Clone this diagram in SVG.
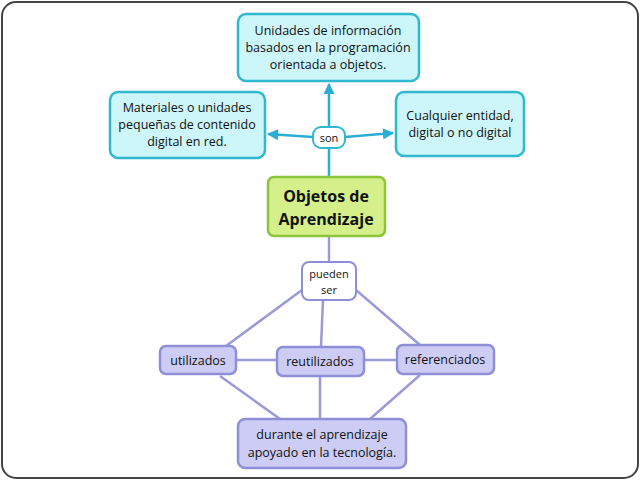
<svg xmlns="http://www.w3.org/2000/svg" width="640" height="480" viewBox="0 0 640 480">
<style>
text{font-family:"Open Sans","Noto Sans",sans-serif;font-size:12.5px;fill:#111;text-anchor:middle}
.c{fill:#ccf6f9;stroke:#2fb8d0;stroke-width:2.5}
.p{fill:#ccccf4;stroke:#8e8fd6;stroke-width:2.5}
.w{fill:#fff;stroke:#2fb8d0;stroke-width:2}
.wp{fill:#fff;stroke:#8e8fd6;stroke-width:2}
.lc{stroke:#2aaed6;stroke-width:2.5;fill:none}
.lp{stroke:#9a9ad8;stroke-width:2.5;fill:none}
</style>
<defs><marker id="a" viewBox="0 0 10 10" refX="9" refY="5" markerWidth="4.5" markerHeight="4.5" orient="auto"><path d="M0,0L10,5L0,10z" fill="#2aaed6"/></marker></defs>
<rect x="2" y="2" width="636" height="476" rx="14" fill="#fff" stroke="#444" stroke-width="2"/>
<g id="connectors">
<path class="lc" d="M329,176V149"/>
<path class="lc" d="M329,127V84" marker-end="url(#a)"/>
<path class="lc" d="M313,137L268,134" marker-end="url(#a)"/>
<path class="lc" d="M345,137L393,133" marker-end="url(#a)"/>
<path class="lp" d="M329,237V262"/>
<path class="lp" d="M302,290L226,346M323,300L321,347M356,290L420,345"/>
<path class="lp" d="M236,360H277M364,360H397"/>
<path class="lp" d="M220,376L280,419M320,377V419M420,375L370,419"/>
</g>
<g id="n1"><rect class="c" x="238" y="14" width="181" height="67" rx="8"/><text x="328" y="35">Unidades de información</text><text x="328" y="52">basados en la programación</text><text x="328" y="69">orientada a objetos.</text></g>
<g id="n2"><rect class="c" x="110" y="92" width="155" height="66" rx="8"/><text x="187" y="112">Materiales o unidades</text><text x="187" y="129">pequeñas de contenido</text><text x="187" y="146">digital en red.</text></g>
<g id="n3"><rect class="c" x="396" y="92" width="128" height="64" rx="8"/><text x="460" y="120">Cualquier entidad,</text><text x="460" y="137">digital o no digital</text></g>
<g id="son"><rect class="w" x="313" y="127" width="32" height="21" rx="8"/><text x="329" y="142" style="font-size:11px">son</text></g>
<g id="main"><rect x="268" y="177" width="117" height="59" rx="6" fill="#d5f08a" stroke="#8cc43a" stroke-width="2.5"/><text x="326" y="202" style="font-size:16px;font-weight:bold">Objetos de</text><text x="326" y="225" style="font-size:16px;font-weight:bold">Aprendizaje</text></g>
<g id="pueden"><rect class="wp" x="302" y="262" width="54" height="38" rx="7"/><text x="329" y="278" style="font-size:11px">pueden</text><text x="329" y="294" style="font-size:11px">ser</text></g>
<g id="util"><rect class="p" x="160" y="346" width="76" height="28" rx="6"/><text x="198" y="365">utilizados</text></g>
<g id="reut"><rect class="p" x="277" y="347" width="87" height="29" rx="6"/><text x="320" y="366">reutilizados</text></g>
<g id="ref"><rect class="p" x="397" y="345" width="97" height="29" rx="6"/><text x="445" y="364">referenciados</text></g>
<g id="bottom"><rect class="p" x="238" y="419" width="168" height="49" rx="7"/><text x="322" y="439">durante el aprendizaje</text><text x="322" y="457">apoyado en la tecnología.</text></g>
</svg>
